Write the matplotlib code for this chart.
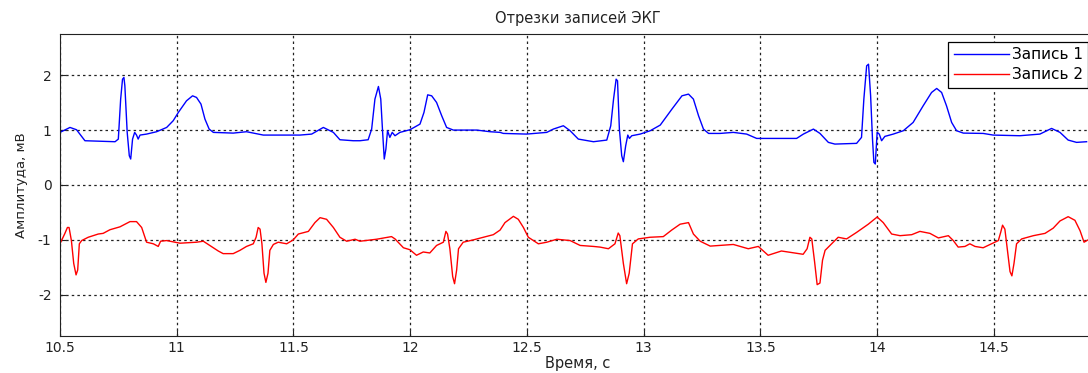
import matplotlib.pyplot as plt

plt.rcParams['font.family'] = ['DejaVu Sans']
plt.rcParams['axes.unicode_minus'] = False

# Запись 1 (время, с / амплитуда, мВ)
t1 = [10.500, 10.543, 10.571, 10.607, 10.736, 10.750, 10.760, 10.768, 10.774, 10.778,
      10.788, 10.797, 10.803, 10.811, 10.820, 10.828, 10.835, 10.843, 10.871, 10.914,
      10.957, 10.985, 11.007, 11.042, 11.068, 11.085, 11.104, 11.121, 11.139, 11.157,
      11.242, 11.299, 11.371, 11.528, 11.578, 11.628, 11.671, 11.699, 11.756,
      11.785, 11.820, 11.835, 11.849, 11.864, 11.874, 11.882, 11.889, 11.896, 11.903,
      11.913, 11.923, 11.935, 11.956, 11.999, 12.042, 12.059, 12.075, 12.092, 12.113,
      12.135, 12.156, 12.185, 12.285, 12.342, 12.385, 12.399, 12.499, 12.585, 12.613,
      12.656, 12.685, 12.720, 12.785, 12.842, 12.859, 12.871, 12.882, 12.888, 12.896,
      12.906, 12.913, 12.923, 12.932, 12.939, 12.949, 12.985, 13.028, 13.071, 13.121,
      13.164, 13.192, 13.213, 13.235, 13.256, 13.278,
      13.327, 13.384, 13.441, 13.484, 13.655, 13.684, 13.727, 13.755, 13.791, 13.819,
      13.912, 13.933, 13.943, 13.955, 13.963, 13.972, 13.980, 13.986, 13.992, 14.000,
      14.009, 14.019, 14.033, 14.069, 14.112, 14.154, 14.197, 14.233, 14.255, 14.276,
      14.297, 14.319, 14.340, 14.369, 14.454, 14.497, 14.611, 14.697, 14.747, 14.783,
      14.818, 14.854, 14.897]
ecg1 = [0.958, 1.048, 1.006, 0.806, 0.788, 0.836, 1.564, 1.927, 1.958, 1.806,
        0.958, 0.533, 0.473, 0.836, 0.958, 0.909, 0.836, 0.909, 0.927, 0.970,
        1.048, 1.170, 1.321, 1.533, 1.624, 1.594, 1.473, 1.200, 1.018, 0.958,
        0.945, 0.970, 0.909, 0.909, 0.927, 1.048, 0.958, 0.824, 0.806,
        0.806, 0.824, 1.018, 1.564, 1.794, 1.564, 0.958, 0.473, 0.655, 0.988,
        0.867, 0.958, 0.897, 0.958, 1.006, 1.109, 1.321, 1.642, 1.624, 1.503,
        1.261, 1.048, 1.000, 1.000, 0.970, 0.958, 0.939, 0.927, 0.958, 1.018,
        1.079, 0.988, 0.836, 0.788, 0.818, 1.079, 1.564, 1.927, 1.897, 1.018,
        0.533, 0.424, 0.715, 0.909, 0.848, 0.897, 0.927, 0.988, 1.091, 1.382,
        1.624, 1.655, 1.564, 1.261, 1.018, 0.939,
        0.939, 0.958, 0.927, 0.848, 0.848, 0.927, 1.018, 0.939, 0.776, 0.745,
        0.758, 0.867, 1.564, 2.170, 2.200, 1.624, 0.836, 0.412, 0.382, 0.958,
        0.927, 0.806, 0.885, 0.927, 0.988, 1.139, 1.442, 1.685, 1.758, 1.685,
        1.442, 1.139, 0.988, 0.945, 0.939, 0.909, 0.897, 0.927, 1.030, 0.958,
        0.818, 0.776, 0.788]

# Запись 2
t2 = [10.500, 10.520, 10.532, 10.539, 10.549, 10.559, 10.569, 10.576, 10.583, 10.593,
      10.621, 10.664, 10.685, 10.714, 10.757, 10.800, 10.828, 10.850, 10.871, 10.900,
      10.921, 10.931, 10.957, 10.978, 11.014, 11.085, 11.114, 11.178, 11.199, 11.242,
      11.271, 11.299, 11.328, 11.340, 11.349, 11.357, 11.365, 11.374, 11.382, 11.391,
      11.399, 11.414, 11.435, 11.471, 11.499, 11.521, 11.564, 11.592, 11.614, 11.642,
      11.671, 11.699, 11.728, 11.764,
      11.785, 11.856, 11.920, 11.935, 11.971, 11.999, 12.027, 12.056, 12.084, 12.113,
      12.142, 12.153, 12.160, 12.170, 12.182, 12.190, 12.199, 12.207, 12.227, 12.270,
      12.313, 12.356, 12.385, 12.406, 12.442, 12.463, 12.485, 12.506, 12.549, 12.585,
      12.628, 12.685, 12.728, 12.785, 12.813, 12.849, 12.877, 12.891, 12.898, 12.913,
      12.927, 12.938, 12.952, 12.977, 13.027, 13.084, 13.120, 13.156, 13.192, 13.213,
      13.242, 13.285,
      13.327, 13.384, 13.448, 13.491, 13.533, 13.590, 13.683, 13.700, 13.712, 13.720,
      13.732, 13.743, 13.755, 13.766, 13.777, 13.805, 13.833, 13.869, 13.912, 13.962,
      14.000, 14.026, 14.062, 14.098, 14.148, 14.183, 14.226, 14.262, 14.305, 14.326,
      14.347, 14.376, 14.397, 14.419, 14.454, 14.490, 14.519, 14.529, 14.537, 14.547,
      14.557, 14.569, 14.577, 14.586, 14.597, 14.619, 14.669, 14.719, 14.754, 14.783,
      14.818, 14.847, 14.869, 14.886, 14.903]
ecg2 = [-1.071, -0.893, -0.774, -0.774, -1.012, -1.429, -1.637, -1.548, -1.071, -1.012,
        -0.952, -0.893, -0.881, -0.815, -0.762, -0.667, -0.667, -0.774, -1.042, -1.071,
        -1.119, -1.024, -1.012, -1.030, -1.060, -1.042, -1.024, -1.202, -1.250, -1.250,
        -1.190, -1.119, -1.071, -0.952, -0.774, -0.804, -1.071, -1.607, -1.774, -1.607,
        -1.190, -1.083, -1.042, -1.071, -1.000, -0.893, -0.845, -0.685, -0.595, -0.625,
        -0.774, -0.952, -1.024, -0.988,
        -1.024, -0.988, -0.940, -0.982, -1.143, -1.179, -1.280, -1.220, -1.238, -1.101,
        -1.042, -0.845, -0.893, -1.161, -1.667, -1.798, -1.548, -1.161, -1.042, -1.000,
        -0.952, -0.905, -0.821, -0.685, -0.571, -0.625, -0.774, -0.952, -1.071, -1.042,
        -0.988, -1.012, -1.101, -1.119, -1.131, -1.161, -1.071, -0.875, -0.923, -1.429,
        -1.798, -1.607, -1.071, -0.982, -0.952, -0.940, -0.821, -0.714, -0.685, -0.893,
        -1.024, -1.113,
        -1.101, -1.083, -1.161, -1.119, -1.280, -1.202, -1.262, -1.161, -0.952, -0.982,
        -1.399, -1.815, -1.786, -1.369, -1.190, -1.071, -0.952, -0.982, -0.863, -0.714,
        -0.583, -0.685, -0.893, -0.923, -0.905, -0.845, -0.881, -0.964, -0.923, -1.012,
        -1.131, -1.119, -1.071, -1.119, -1.143, -1.071, -1.012, -0.863, -0.732, -0.804,
        -1.161, -1.577, -1.655, -1.429, -1.071, -0.982, -0.923, -0.881, -0.786, -0.655,
        -0.577, -0.643, -0.833, -1.042, -1.000]

xticks = [10.5, 11, 11.5, 12, 12.5, 13, 13.5, 14, 14.5]
xticklabels = ['10.5', '11', '11.5', '12', '12.5', '13', '13.5', '14', '14.5']
yticks = [-2, -1, 0, 1, 2]

fig = plt.figure(figsize=(10.88, 3.73), dpi=100)
ax = fig.add_axes([0.0551, 0.0992, 0.9522, 0.8097])

ax.plot(t1, ecg1, color='#0000ff', linewidth=1.0, label='Запись 1')
ax.plot(t2, ecg2, color='#ff0000', linewidth=1.0, label='Запись 2')

ax.set_xlim(10.5, 14.937)
ax.set_ylim(-2.75, 2.75)
ax.set_xticks(xticks)
ax.set_xticklabels(xticklabels)
ax.set_yticks(yticks)
ax.tick_params(direction='in', length=4, labelsize=10, colors='#222222')
ax.tick_params(axis='y', pad=6)
ax.grid(True, color='#222222', linestyle=(0, (2, 2.5)), linewidth=0.9)

for side in ['left', 'bottom', 'top', 'right']:
    ax.spines[side].set_color('#222222')

ax.set_title('Отрезки записей ЭКГ', fontsize=10.5, color='#222222', pad=8)
ax.set_xlabel('Время, с', fontsize=10.5, color='#222222', labelpad=1)
ax.set_ylabel('Амплитуда, мВ', fontsize=9.5, color='#222222', labelpad=7)

leg = ax.legend(loc='upper right', bbox_to_anchor=(0.9925, 0.975), fontsize=11,
                handlelength=3.6, fancybox=False, framealpha=1, borderaxespad=0,
                borderpad=0.35, labelspacing=0.35, handletextpad=0.2)
leg.get_frame().set_edgecolor('#000000')
leg.get_frame().set_linewidth(0.9)

plt.savefig('out.png', dpi=100)
